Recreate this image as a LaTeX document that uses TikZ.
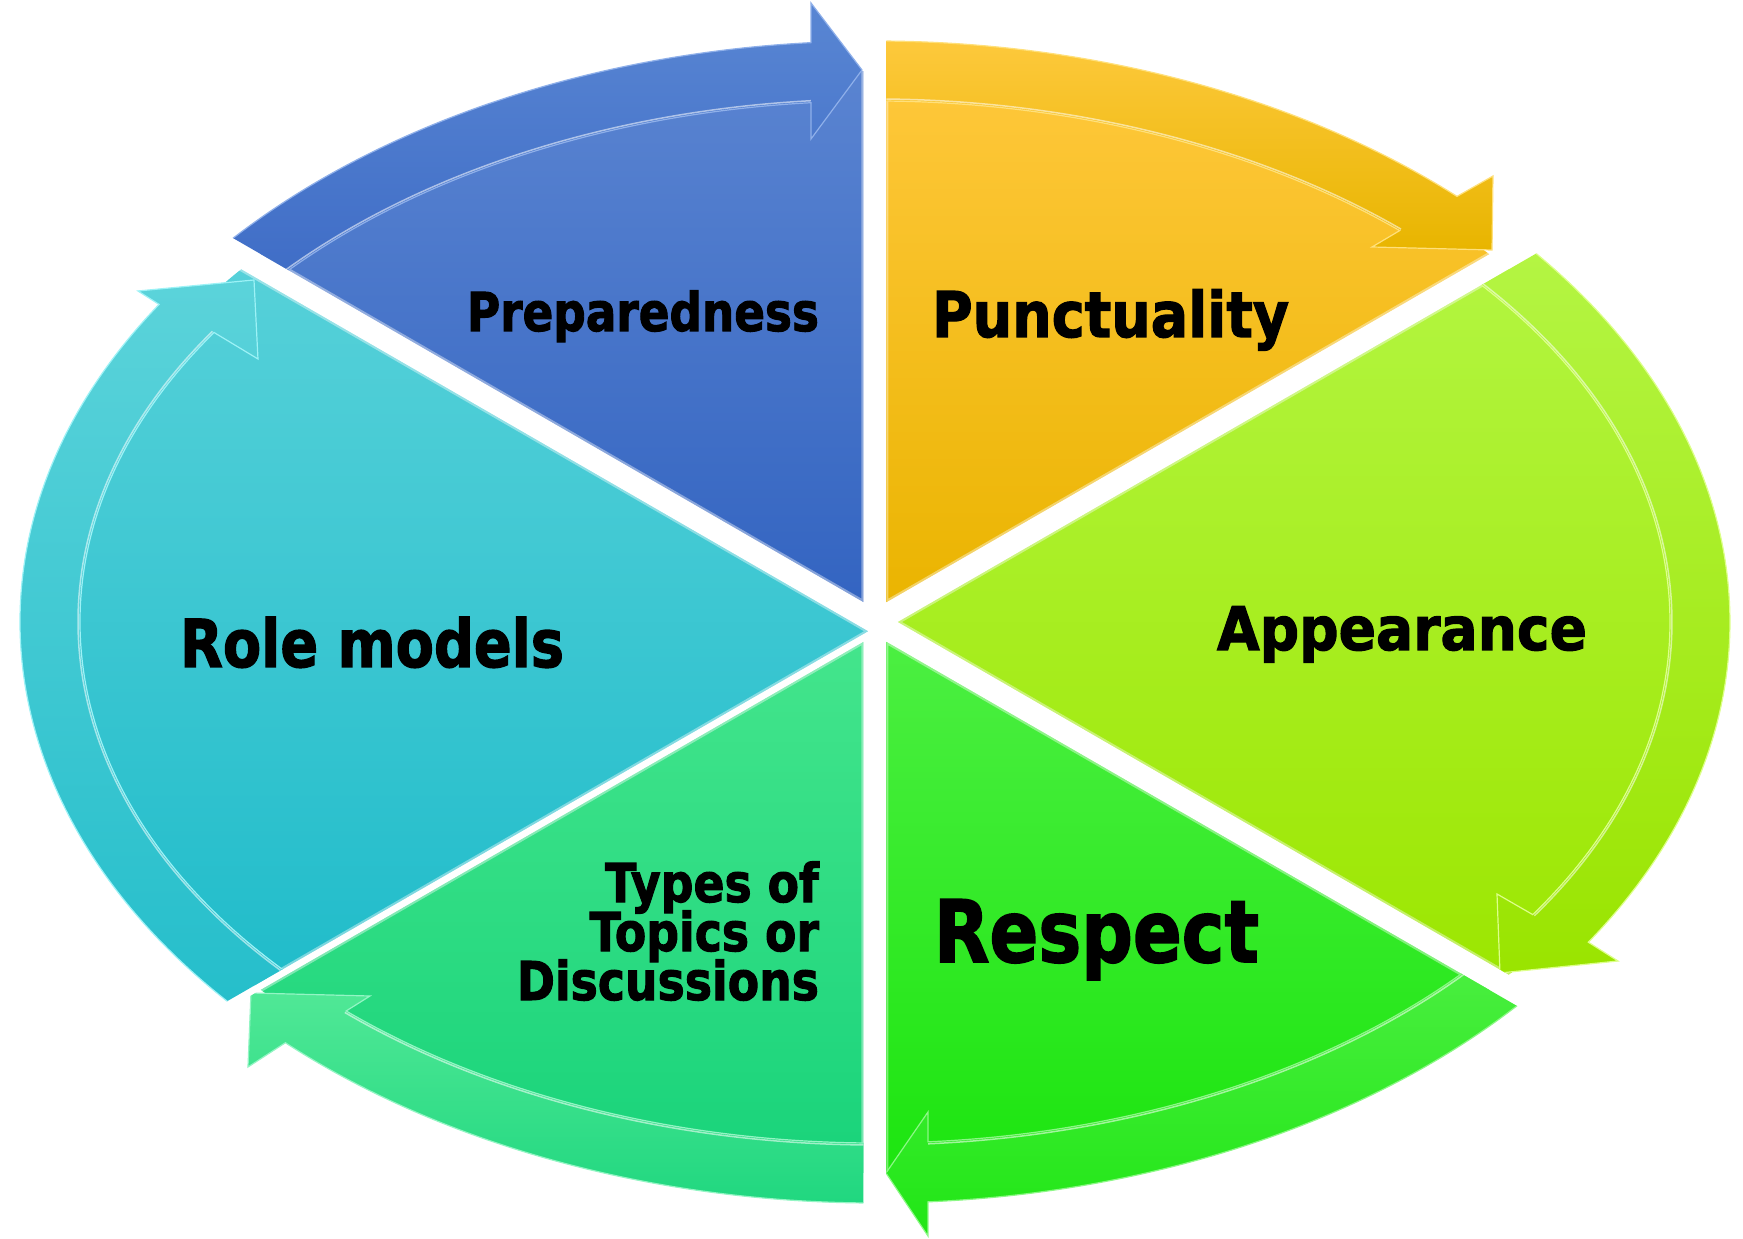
\documentclass[tikz,border=0pt]{standalone}
\usepackage{fontspec}
\setmainfont{DejaVu Sans}[BoldFeatures={FakeBold=2}]
\usepackage{graphicx}
\definecolor{bluetop}{HTML}{5A84D1}\definecolor{bluebot}{HTML}{3364C1}
\definecolor{blueatop}{HTML}{5986D3}\definecolor{blueabot}{HTML}{3A68C4}\definecolor{blueline}{HTML}{8FB0EA}
\definecolor{yeltop}{HTML}{FFC83C}\definecolor{yelbot}{HTML}{EAB400}
\definecolor{yelatop}{HTML}{FFCA40}\definecolor{yelabot}{HTML}{E8B500}\definecolor{yelline}{HTML}{FFE07A}
\definecolor{limetop}{HTML}{B3F541}\definecolor{limebot}{HTML}{9CE600}
\definecolor{limeatop}{HTML}{B6F648}\definecolor{limeabot}{HTML}{9AE400}\definecolor{limeline}{HTML}{DDFF8A}
\definecolor{grntop}{HTML}{4CEF42}\definecolor{grnbot}{HTML}{1CE50F}
\definecolor{grnatop}{HTML}{52F048}\definecolor{grnabot}{HTML}{20E615}\definecolor{grnline}{HTML}{8CF886}
\definecolor{tealtop}{HTML}{44E58C}\definecolor{tealbot}{HTML}{18D37A}
\definecolor{tealatop}{HTML}{50E896}\definecolor{tealabot}{HTML}{1DD67E}\definecolor{tealline}{HTML}{93F5C4}
\definecolor{cyantop}{HTML}{57D1D9}\definecolor{cyanbot}{HTML}{20BCCA}
\definecolor{cyanatop}{HTML}{5BD3DA}\definecolor{cyanabot}{HTML}{22BDCA}\definecolor{cyanline}{HTML}{9CF2F6}
\newcommand\fitw[2]{\resizebox{#1}{\height}{#2}}
% #1 name, #2 bisector, #3 gap of cw edge, #4 gap of ccw edge, #5 ymin, #6 ymax,
% #7 tail angle, #8 outer notch angle, #9 inner notch angle
\newcommand\segment[9]{%
\begin{scope}
 \pgfmathsetmacro\sgda{#2-30}\pgfmathsetmacro\sgdb{#2+30}
 \pgfmathsetmacro\sgPx{((#3)*(-cos(\sgdb)) - (#4)*cos(\sgda))/sin(\sgda-\sgdb)}
 \pgfmathsetmacro\sgPy{(-sin(\sgda)*(#4) - sin(\sgdb)*(#3))/sin(\sgda-\sgdb)}
 \coordinate (#1apex) at (\sgPx,\sgPy);
 \clip (#1apex) -- +(\sgda:3000) -- +(#2:3600) -- +(\sgdb:3000) -- cycle;
 \begin{scope}
  \clip (0,0) ellipse [x radius=825, y radius=551];
  \shade[top color=#1top, bottom color=#1bot] (-900,#5) rectangle (900,#6);
 \end{scope}
 \draw[white, opacity=0.4, line width=4pt] (#1apex) +(\sgda:900) -- (#1apex) -- +(\sgdb:900);
 \path[top color=#1atop, bottom color=#1abot, draw=#1line, line width=1.2pt, line join=miter]
   (#7:855 and 581) arc[start angle=#7, end angle=#8, x radius=855, y radius=581]
   -- (#1ob) -- (#1tip) -- (#1ib) -- (#9:795 and 521)
   arc[start angle=#9, end angle=#7, x radius=795, y radius=521] -- cycle;
 \draw[white, opacity=0.55, line width=1.5pt]
   (#7:797 and 523) arc[start angle=#7, end angle=#9, x radius=797, y radius=523];
\end{scope}}
\tikzset{lbl/.style={inner sep=0pt, outer sep=0pt, text=black, font=\bfseries}}
\begin{document}
\begin{tikzpicture}[x=1pt,y=1pt]
\useasboundingbox (-875,-617) rectangle (868,622);
\fill[white] (-875,-617) rectangle (868,622);
% arrow heads: outer barb, tip, inner barb
\coordinate (blueob) at (-64,619);  \coordinate (bluetip) at (-13,552);  \coordinate (blueib) at (-64,483);
\coordinate (yelob) at (618,446);   \coordinate (yeltip) at (617,372);   \coordinate (yelib) at (497,375);
\coordinate (limeob) at (743,-339); \coordinate (limetip) at (625,-351); \coordinate (limeib) at (622,-272);
\coordinate (grnob) at (53,-614);   \coordinate (grntip) at (11,-551);   \coordinate (grnib) at (53,-490);
\coordinate (tealob) at (-627,-445);\coordinate (tealtip) at (-624,-371);\coordinate (tealib) at (-505,-374);
\coordinate (cyanob) at (-737,331); \coordinate (cyantip) at (-621,342); \coordinate (cyanib) at (-617,263);
\segment{blue}{120}{11.5}{11.5}{15}{555}{146}{94.29}{94.62}
\segment{yel}{60}{11.5}{11.5}{15}{555}{96}{47.1}{48.7}
\segment{lime}{0}{11.5}{11.5}{-365}{365}{47}{-33.45}{-34.17}
\segment{grn}{-60}{11.5}{11.5}{-555}{-15}{-34}{-86.45}{-86.18}
\segment{teal}{-120}{11.5}{11.5}{-555}{-15}{-84}{-133.6}{-131.7}
\segment{cyan}{180}{11.5}{-4.5}{-365}{365}{227}{146.86}{146.24}
\node[lbl, anchor=base east] (prep) at (-56,291) {\fitw{352pt}{\fontsize{53.5}{60}\selectfont Preparedness}};
\node[lbl, anchor=base west] (punc) at (57,285) {\fitw{357pt}{\fontsize{63}{70}\selectfont Punctuality}};
\node[lbl, anchor=base west] (appe) at (342,-28) {\fitw{370pt}{\fontsize{60}{66}\selectfont Appearance}};
\node[lbl, anchor=base west] (role) at (-695,-45) {\fitw{384pt}{\fontsize{66}{72}\selectfont Role models}};
\node[lbl, anchor=base west] (resp) at (59,-340) {\fitw{325pt}{\fontsize{86}{90}\selectfont Respect}};
\node[lbl, anchor=base east] (types) at (-56,-378) {\fitw{302pt}{\fontsize{53.5}{49}\selectfont\begin{tabular}[b]{@{}r@{}}\smash{Types of}\\\smash{Topics or}\\\smash{Discussions}\end{tabular}}};
\end{tikzpicture}
\end{document}
